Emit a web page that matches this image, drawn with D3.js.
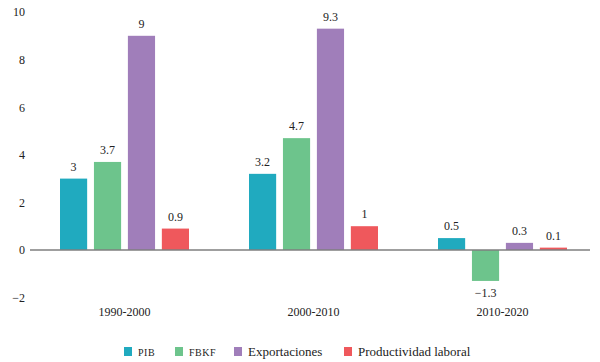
<!DOCTYPE html>
<html><head><meta charset="utf-8">
<script src="https://cdn.jsdelivr.net/npm/d3@7"></script>
<style>body{margin:0;background:#fff}svg{display:block}text{font-family:"Liberation Serif","DejaVu Serif",serif;fill:#222}</style>
</head><body><svg id="c" width="600" height="362"></svg>
<script>
const categories = ["1990-2000", "2000-2010", "2010-2020"];
const seriesNames = ["PIB", "FBKF", "Exportaciones", "Productividad laboral"];
const pib = [3, 3.2, 0.5];
const fbkf = [3.7, 4.7, -1.3];
const exportaciones = [9, 9.3, 0.3];
const productividad = [0.9, 1, 0.1];
const yTicks = [-2, 0, 2, 4, 6, 8, 10];
const colors = ["#20AABF", "#6DC48C", "#A07EBA", "#EF585C"];

const seriesValues = [pib, fbkf, exportaciones, productividad];
const svg = d3.select("#c");
const y = d3.scaleLinear().domain([-2, 10]).range([297.6, 12]);
const x0 = d3.scaleBand().domain(categories).range([30, 597]).paddingInner(0).paddingOuter(0);
const x1 = d3.scaleBand().domain(seriesNames).range([0, 129]).paddingInner(0.2).paddingOuter(0);
const off = (x0.bandwidth() - 129) / 2;

// y tick labels
const yAxis = d3.axisLeft(y).tickValues(yTicks).tickSize(0).tickPadding(0)
  .tickFormat(d => d < 0 ? "\u2212" + Math.abs(d) : d);
const ya = svg.append("g").attr("transform", "translate(25,0)").call(yAxis);
ya.select(".domain").remove();
ya.selectAll("text").style("font-size", "12px").attr("font-family", null).attr("fill", "#222");

// bars
const rows = [];
categories.forEach((c, i) => seriesNames.forEach((s, j) => rows.push({c, s, j, v: seriesValues[j][i]})));
const g = svg.append("g");
g.selectAll("rect").data(rows).enter().append("rect")
  .attr("x", d => x0(d.c) + off + x1(d.s))
  .attr("width", x1.bandwidth())
  .attr("y", d => y(Math.max(0, d.v)))
  .attr("height", d => Math.abs(y(d.v) - y(0)))
  .attr("fill", d => colors[d.j]);

g.selectAll("text.v").data(rows).enter().append("text").attr("class", "v")
  .attr("x", d => x0(d.c) + off + x1(d.s) + x1.bandwidth() / 2)
  .attr("y", d => d.v >= 0 ? y(d.v) - 8 : y(d.v) + 16)
  .attr("text-anchor", "middle").style("font-size", "12px")
  .text(d => d.v < 0 ? "\u2212" + Math.abs(d.v) : d.v);

// zero line
svg.append("line").attr("x1", 30).attr("x2", 590).attr("y1", y(0)).attr("y2", y(0))
  .attr("stroke", "#7f7f7f").attr("stroke-width", 1.5);

// category labels
const xAxis = d3.axisBottom(x0).tickSize(0).tickPadding(0);
const xa = svg.append("g").attr("transform", "translate(0,307)").call(xAxis);
xa.select(".domain").remove();
xa.selectAll("text").style("font-size", "12px").attr("font-family", null).attr("fill", "#222");

// legend
const legX = [124, 175, 234, 344];
const leg = svg.append("g");
seriesNames.forEach((s, j) => {
  leg.append("rect").attr("x", legX[j]).attr("y", 347).attr("width", 8).attr("height", 9).attr("fill", colors[j]);
  const t = leg.append("text").attr("x", legX[j] + 14).attr("y", 356).style("font-size", "13px").text(s);
  if (j < 2) t.style("font-size", "10px").style("letter-spacing", "0.5px");
});
</script></body></html>
